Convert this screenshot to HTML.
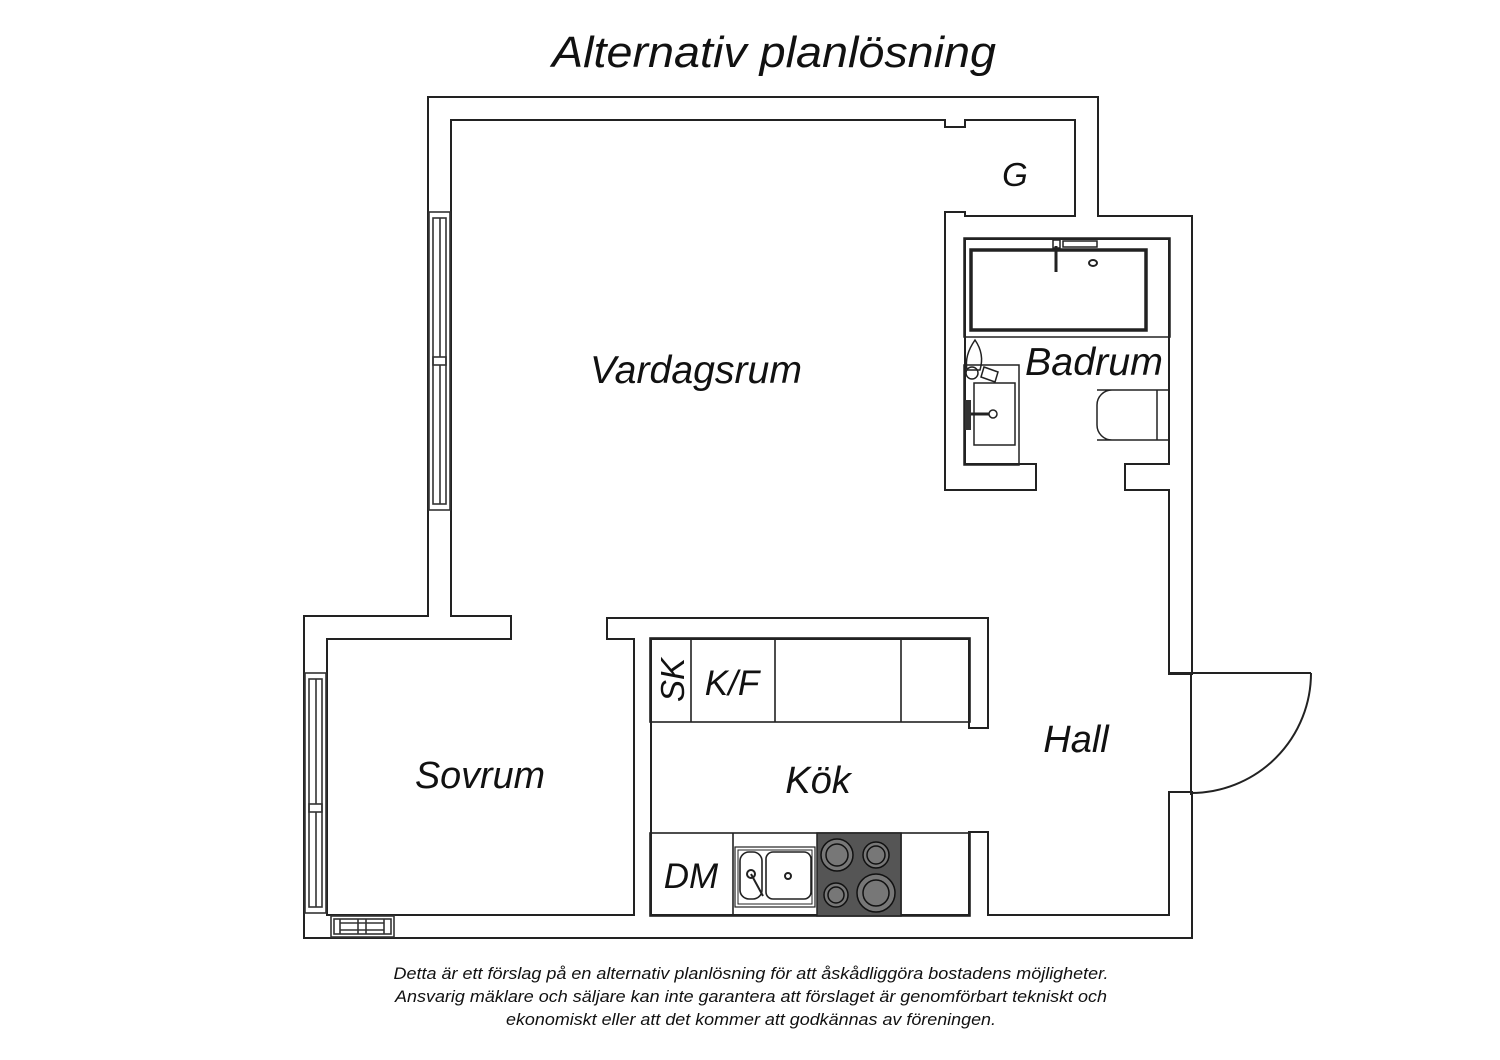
<!DOCTYPE html>
<html><head><meta charset="utf-8"><style>
html,body{margin:0;padding:0;background:#fff;}
svg{display:block;}
text{font-family:"Liberation Sans","DejaVu Sans",sans-serif;font-style:italic;fill:#111;}
</style></head><body>
<svg width="1500" height="1060" viewBox="0 0 1500 1060" xmlns="http://www.w3.org/2000/svg">
<rect width="1500" height="1060" fill="#fff"/>
<text x="774" y="67" font-size="44" text-anchor="middle" textLength="444" lengthAdjust="spacingAndGlyphs">Alternativ planlösning</text>

<defs>
<g id="walls">
<rect x="429" y="98" width="668" height="21"/>
<rect x="946" y="98" width="18" height="28"/>
<rect x="429" y="98" width="21" height="540"/>
<rect x="305" y="617" width="205" height="21"/>
<rect x="305" y="617" width="21" height="320"/>
<rect x="305" y="916" width="886" height="21"/>
<rect x="635" y="619" width="15" height="297"/>
<rect x="608" y="619" width="379" height="19"/>
<rect x="970" y="619" width="17" height="108"/>
<rect x="970" y="833" width="17" height="83"/>
<rect x="1076" y="98" width="21" height="140"/>
<rect x="964" y="217" width="227" height="21"/>
<rect x="946" y="213" width="18" height="276"/>
<rect x="946" y="465" width="89" height="24"/>
<rect x="1126" y="465" width="65" height="24"/>
<rect x="1170" y="217" width="21" height="456"/>
<rect x="1170" y="793" width="21" height="144"/>
</g>
</defs>
<use href="#walls" fill="#222" stroke="#222" stroke-width="4"/>
<use href="#walls" fill="#fff"/>

<g fill="none" stroke="#333" stroke-width="1.6">
<rect x="429" y="212" width="21" height="298" fill="#fff"/>
<rect x="433" y="218" width="13" height="286"/>
<line x1="440" y1="218" x2="440" y2="357"/><line x1="440" y1="365" x2="440" y2="504"/>
<rect x="433" y="357" width="13" height="8"/>
<rect x="305" y="673" width="21" height="240" fill="#fff"/>
<rect x="309" y="679" width="13" height="228"/>
<line x1="316" y1="679" x2="316" y2="804"/><line x1="316" y1="812" x2="316" y2="907"/>
<rect x="309" y="804" width="13" height="8"/>
<rect x="331" y="916" width="63" height="21" fill="#fff"/>
<rect x="334" y="919" width="57" height="15"/>
<line x1="340" y1="923" x2="384" y2="923"/><line x1="340" y1="930" x2="384" y2="930"/>
<line x1="340" y1="919" x2="340" y2="934"/><line x1="358" y1="919" x2="358" y2="934"/><line x1="366" y1="919" x2="366" y2="934"/><line x1="384" y1="919" x2="384" y2="934"/>
</g>

<rect x="1172" y="675" width="17" height="116" fill="#fff"/>
<g fill="none" stroke="#222" stroke-width="2">
<line x1="1191" y1="673" x2="1191" y2="795"/>
<line x1="1170" y1="673" x2="1311" y2="673"/>
<path d="M1311 673 A120 120 0 0 1 1191 793"/>
</g>

<g fill="none" stroke="#222">
<rect x="964" y="238" width="206" height="99" stroke-width="1.5"/>
<rect x="971" y="250" width="175" height="80" stroke-width="3.5"/>
<rect x="1053" y="240" width="7" height="8" stroke-width="1.5"/>
<line x1="1056" y1="246" x2="1056" y2="272" stroke-width="3"/>
<rect x="1063" y="241" width="34" height="6" stroke-width="1.5"/>
<ellipse cx="1093" cy="263" rx="4" ry="3" stroke-width="2"/>
<path d="M1097 390 L1170 390 M1097 440 L1170 440 M1157 390 L1157 440 M1112 390 A15 15 0 0 0 1097 405 L1097 425 A15 15 0 0 0 1112 440" stroke-width="1.5"/>
<rect x="964" y="365" width="55" height="100" stroke-width="1.5"/>
<rect x="974" y="383" width="41" height="62" stroke-width="1.5"/>
<line x1="968" y1="414" x2="990" y2="414" stroke-width="3"/>
<circle cx="993" cy="414" r="4" stroke-width="1.5" fill="#fff"/>
<path d="M975 340 C968 350 965 360 967 370 L980 370 C983 360 982 350 975 340Z" stroke-width="1.5"/>
<circle cx="972" cy="373" r="6" stroke-width="1.5"/>
<path d="M984 367 L998 372 L995 382 L981 377Z" stroke-width="1.5"/>
</g>
<rect x="965" y="400" width="6" height="30" fill="#333"/>

<g fill="none" stroke="#222" stroke-width="1.6">
<rect x="650" y="638" width="320" height="84"/>
<line x1="691" y1="638" x2="691" y2="722"/>
<line x1="775" y1="638" x2="775" y2="722"/>
<line x1="901" y1="638" x2="901" y2="722"/>
<rect x="650" y="833" width="320" height="83"/>
<line x1="733" y1="833" x2="733" y2="916"/>
<line x1="901" y1="833" x2="901" y2="916"/>
<rect x="735" y="847" width="80" height="60" stroke-width="1.2"/>
<rect x="738" y="850" width="74" height="54" stroke-width="1"/>
<rect x="740" y="852" width="22" height="47" rx="9"/>
<rect x="766" y="852" width="45" height="47" rx="7"/>
<line x1="751" y1="874" x2="763" y2="896" stroke-width="2"/>
<circle cx="751" cy="874" r="4" stroke-width="2"/>
<circle cx="788" cy="876" r="3" stroke-width="2"/>
</g>
<rect x="817" y="833" width="84" height="83" fill="#555" stroke="#222" stroke-width="1.5"/>
<g stroke="#111" stroke-width="1.5" fill="#777">
<circle cx="837" cy="855" r="16"/><circle cx="837" cy="855" r="11"/>
<circle cx="876" cy="855" r="13"/><circle cx="876" cy="855" r="9"/>
<circle cx="836" cy="895" r="12"/><circle cx="836" cy="895" r="8"/>
<circle cx="876" cy="893" r="19"/><circle cx="876" cy="893" r="13"/>
</g>

<text x="696" y="383" font-size="39" text-anchor="middle" textLength="212" lengthAdjust="spacingAndGlyphs">Vardagsrum</text>
<text x="1015" y="186" font-size="33" text-anchor="middle">G</text>
<text x="1094" y="375" font-size="39" text-anchor="middle" textLength="138" lengthAdjust="spacingAndGlyphs">Badrum</text>
<text x="480" y="788" font-size="38" text-anchor="middle" textLength="130" lengthAdjust="spacingAndGlyphs">Sovrum</text>
<text x="818" y="793" font-size="38" text-anchor="middle">Kök</text>
<text x="1076" y="752" font-size="38" text-anchor="middle">Hall</text>
<text x="732" y="695" font-size="35" text-anchor="middle">K/F</text>
<text x="691" y="888" font-size="35" text-anchor="middle">DM</text>
<text transform="translate(684,680) rotate(-90)" font-size="33" text-anchor="middle">SK</text>

<g font-size="16.5" text-anchor="middle" fill="#333">
<text x="751" y="979" textLength="715" lengthAdjust="spacingAndGlyphs">Detta är ett förslag på en alternativ planlösning för att åskådliggöra bostadens möjligheter.</text>
<text x="751" y="1002" textLength="712" lengthAdjust="spacingAndGlyphs">Ansvarig mäklare och säljare kan inte garantera att förslaget är genomförbart tekniskt och</text>
<text x="751" y="1025" textLength="490" lengthAdjust="spacingAndGlyphs">ekonomiskt eller att det kommer att godkännas av föreningen.</text>
</g>
</svg>
</body></html>
